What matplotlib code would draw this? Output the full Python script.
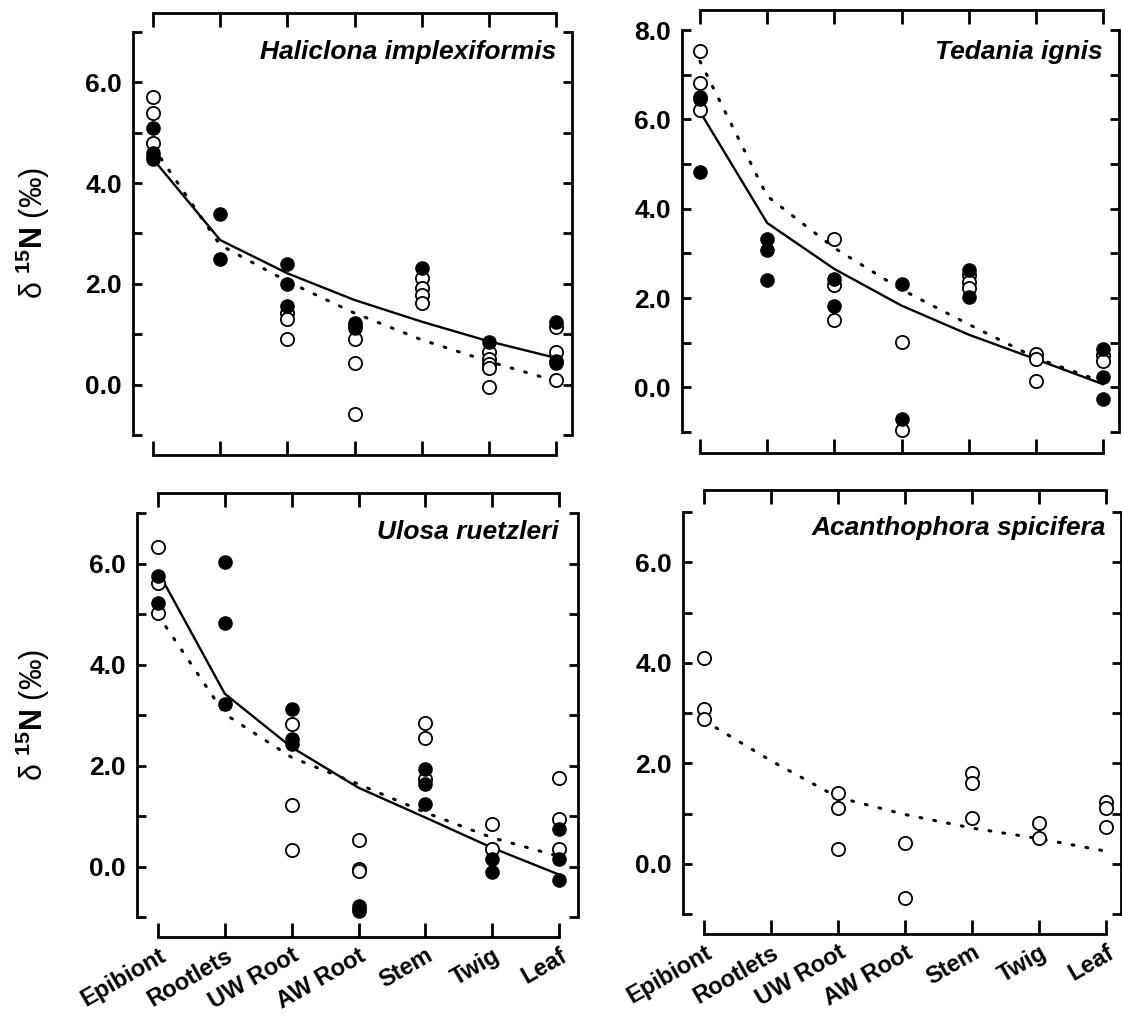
import numpy as np
import matplotlib
matplotlib.use('Agg')
import matplotlib.pyplot as plt

plt.rcParams['font.family'] = ['Liberation Sans', 'DejaVu Sans']
plt.rcParams['mathtext.fontset'] = 'custom'
plt.rcParams['mathtext.rm'] = 'Liberation Sans'
plt.rcParams['mathtext.bf'] = 'Liberation Sans:bold'
plt.rcParams['mathtext.it'] = 'Liberation Sans:italic'

# 组织类别
categories = ['Epibiont', 'Rootlets', 'UW Root', 'AW Root', 'Stem', 'Twig', 'Leaf']

# Haliclona implexiformis
hal_filled = [[5.10, 4.60, 4.52, 4.48], [3.38, 2.49], [2.40, 1.99, 1.56],
              [1.23, 1.17, 1.12], [2.32], [0.85], [1.24, 0.46, 0.42]]
hal_open = [[5.70, 5.39, 4.79], [], [1.42, 1.31, 0.91], [0.91, 0.43, -0.58],
            [2.11, 1.91, 1.78, 1.62], [0.64, 0.50, 0.40, 0.33, -0.05], [1.14, 0.64, 0.10]]
hal_solid = [4.48, 2.87, 2.21, 1.68, 1.25, 0.86, 0.53]
hal_dotted = [4.72, 2.77, 2.05, 1.42, 0.89, 0.46, 0.07]

# Tedania ignis
ted_filled = [[6.50, 6.45, 4.81], [3.32, 3.08, 2.40], [2.43, 1.83], [2.32, -0.70],
              [2.62, 2.03], [], [0.86, 0.24, -0.25]]
ted_open = [[7.52, 6.82, 6.21], [], [3.31, 2.30, 1.50], [1.02, -0.96],
            [2.52, 2.35, 2.22], [0.75, 0.63, 0.14], [0.72, 0.60]]
ted_solid = [6.17, 3.68, 2.65, 1.83, 1.18, 0.63, 0.07]
ted_dotted = [7.30, 4.28, 3.12, 2.19, 1.41, 0.66, 0.12]

# Ulosa ruetzleri
ulo_filled = [[5.76, 5.22], [6.02, 4.82, 3.22], [3.12, 2.52, 2.43], [-0.79, -0.84, -0.89],
              [1.94, 1.63, 1.23], [0.14, -0.11], [0.75, 0.14, -0.26]]
ulo_open = [[6.32, 5.62, 5.02], [], [2.82, 1.22, 0.32], [0.52, -0.05, -0.08],
            [2.84, 2.54, 1.74], [0.85, 0.34], [1.75, 0.95, 0.35]]
ulo_solid = [5.84, 3.42, 2.36, 1.56, 0.97, 0.37, -0.16]
ulo_dotted = [4.98, 3.02, 2.16, 1.63, 1.07, 0.57, 0.20]

# Acanthophora spicifera (只有空心点)
aca_filled = [[], [], [], [], [], [], []]
aca_open = [[4.10, 3.08, 2.88], [], [1.40, 1.11, 0.30], [0.41, -0.68],
            [1.80, 1.61, 0.91], [0.82, 0.52], [1.22, 1.11, 0.73]]
aca_solid = None
aca_dotted = [2.85, 2.05, 1.32, 0.98, 0.71, 0.50, 0.25]

W, H = 1122, 1015

# 每个面板: 名称, 数据, 像素框 (左, 右, 上, 下), 类别0/6像素, y范围及其像素
panels = [
    dict(name='Haliclona implexiformis', filled=hal_filled, open=hal_open,
         solid=hal_solid, dotted=hal_dotted,
         box=(133, 572, 13, 455), xpx=(153, 556), yr=(-1, 7), ypx=(435, 32),
         title_y=6.6, bottom_labels=False, ylabel=True),
    dict(name='Tedania ignis', filled=ted_filled, open=ted_open,
         solid=ted_solid, dotted=ted_dotted,
         box=(682, 1119, 10, 453), xpx=(700, 1103), yr=(-1, 8), ypx=(432, 30),
         title_y=7.5, bottom_labels=False, ylabel=False),
    dict(name='Ulosa ruetzleri', filled=ulo_filled, open=ulo_open,
         solid=ulo_solid, dotted=ulo_dotted,
         box=(137, 578, 493, 937), xpx=(158, 559), yr=(-1, 7), ypx=(917, 513),
         title_y=6.62, bottom_labels=True, ylabel=True),
    dict(name='Acanthophora spicifera', filled=aca_filled, open=aca_open,
         solid=aca_solid, dotted=aca_dotted,
         box=(683, 1121, 490, 934), xpx=(704, 1106), yr=(-1, 7), ypx=(914, 512),
         title_y=6.68, bottom_labels=True, ylabel=False),
]

fig = plt.figure(figsize=(W / 100, H / 100), dpi=100)
px = 72 / 100  # 像素 -> 点


def draw_panel(p):
    L, R, T, B = p['box']
    ax = fig.add_axes([L / W, 1 - B / H, (R - L) / W, (B - T) / H])
    x0, x6 = p['xpx']
    sx = (x6 - x0) / 6.0
    ylo, yhi = p['yr']
    plo, phi = p['ypx']
    sy = (plo - phi) / (yhi - ylo)
    ax.set_xlim(-(x0 - L) / sx, 6 + (R - x6) / sx)
    ax.set_ylim(ylo - (B - plo) / sy, yhi + (phi - T) / sy)

    x = np.arange(len(categories))
    if p['solid'] is not None:
        ax.plot(x, p['solid'], color='black', lw=1.7, zorder=2)
    ax.plot(x, p['dotted'], color='black', lw=2.2, ls=(0, (0.6, 4.0)),
            dash_capstyle='round', zorder=2)
    for i in range(len(categories)):
        if p['open'][i]:
            ax.plot([i] * len(p['open'][i]), p['open'][i], 'o', ms=9.5, mfc='white',
                    mec='black', mew=1.3, ls='none', zorder=3, clip_on=False)
        if p['filled'][i]:
            ax.plot([i] * len(p['filled'][i]), p['filled'][i], 'o', ms=9.5, mfc='black',
                    mec='black', mew=1.0, ls='none', zorder=4, clip_on=False)

    for s in ['left', 'right']:
        ax.spines[s].set_bounds(ylo, yhi)
    for s in ['top', 'bottom']:
        ax.spines[s].set_bounds(0, 6)
    for s in ax.spines.values():
        s.set_linewidth(2.0)

    yt = list(range(ylo, yhi + 1))
    ax.set_yticks(yt)
    ax.set_yticklabels([f'{v:.1f}' if v >= 0 and v % 2 == 0 else '' for v in yt],
                       fontsize=19, fontweight='bold')
    ax.tick_params(axis='y', direction='in', length=9 * px, width=2.0,
                   left=True, right=True, pad=8)
    ax.set_xticks(x)
    if p['bottom_labels']:
        ax.set_xticklabels(categories, fontsize=17, fontweight='bold',
                           rotation=30, ha='right', va='top', rotation_mode='anchor')
    else:
        ax.set_xticklabels([])
    ax.tick_params(axis='x', direction='in', length=14 * px, width=2.0,
                   top=True, bottom=True, pad=5)

    ax.text(6, p['title_y'], p['name'], ha='right', va='center', fontsize=19,
            fontweight='bold', fontstyle='italic')

    if p['ylabel']:
        yc = (plo + phi) / 2
        fig.text(33 / W, 1 - yc / H, r'δ $^{\mathbf{15}}\mathbf{N}$ (‰)', rotation=90,
                 ha='center', va='center', fontsize=22)
    return ax


for p in panels:
    draw_panel(p)

fig.savefig('out.png', dpi=100)
